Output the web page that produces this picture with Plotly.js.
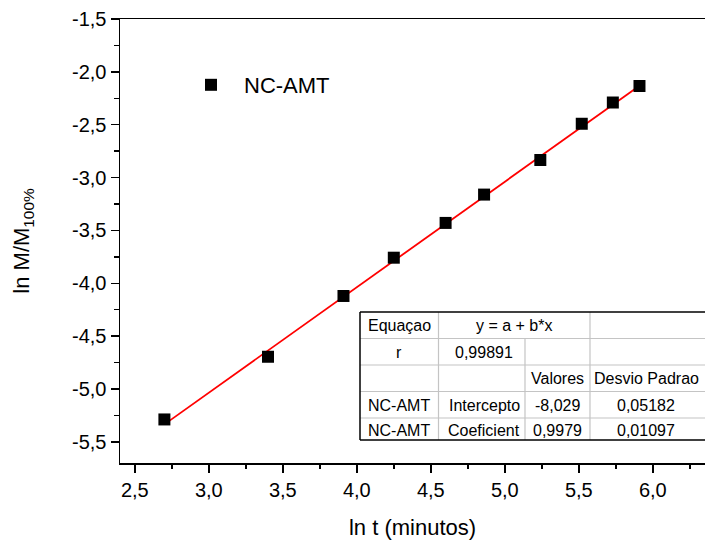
<!DOCTYPE html>
<html>
<head>
<meta charset="utf-8">
<script src="https://cdn.plot.ly/plotly-3.0.1.min.js"></script>
<style>
html,body{margin:0;padding:0;background:#fff;overflow:hidden;}
#chart{width:705px;height:544px;}
</style>
</head>
<body>
<div id="chart"></div>
<script>
// ---- data ----
const seriesName = 'NC-AMT';
const lnT = [2.70, 3.40, 3.91, 4.25, 4.60, 4.86, 5.24, 5.52, 5.73, 5.91];
const lnM = [-5.288, -4.695, -4.120, -3.758, -3.429, -3.161, -2.834, -2.491, -2.290, -2.134];

// linear fit results (from the table in the figure)
const fitIntercept = [-8.029, 0.05182];   // value, std. deviation
const fitSlope = [0.9979, 0.01097];       // value, std. deviation
const fitR = [0.99891];

// tick labels
const xTickVals = [2.5, 3.0, 3.5, 4.0, 4.5, 5.0, 5.5, 6.0];
const xTickText = ['2,5', '3,0', '3,5', '4,0', '4,5', '5,0', '5,5', '6,0'];
const yTickVals = [-1.5, -2.0, -2.5, -3.0, -3.5, -4.0, -4.5, -5.0, -5.5];
const yTickText = ['-1,5', '-2,0', '-2,5', '-3,0', '-3,5', '-4,0', '-4,5', '-5,0', '-5,5'];

// table texts
const tableHeader = ['Equaçao', 'y = a + b*x'];
const tableRLabel = ['r'];
const tableColHeads = ['Valores', 'Desvio Padrao'];
const tableRowLabels = ['NC-AMT', 'NC-AMT'];
const tableParamNames = ['Intercepto', 'Coeficient'];

// ---- helpers ----
const FONT = 'Liberation Sans, Arial, Helvetica, sans-serif';
const ML = 120, MR = 0, MT = 19, MB = 81, W = 705, H = 544;
const PW = W - ML - MR, PH = H - MT - MB;
const px = v => (v - ML) / PW;          // pixel x -> paper
const py = v => (H - MB - v) / PH;      // pixel y -> paper
const fmt = (v, d) => v.toFixed(d).replace('.', ',');

// fitted line through the first and last x
const lineX = [lnT[0], lnT[lnT.length - 1]];
const lineY = lineX.map(x => fitIntercept[0] + fitSlope[0] * x);

const traces = [
  {
    x: lineX, y: lineY, type: 'scatter', mode: 'lines',
    line: {color: '#ff0000', width: 1.8}, showlegend: false, hoverinfo: 'skip'
  },
  {
    x: lnT, y: lnM, type: 'scatter', mode: 'markers', name: seriesName,
    marker: {symbol: 'square', size: 12, color: '#000000', line: {width: 0}}
  }
];

// ---- table (shapes + annotations) ----
const tL = 360, tR = 706, c1 = 438.5, c2 = 525, c3 = 590;
const rows = [312, 338.5, 365, 391.5, 418, 440];
const shapes = [];
const dark = {color: '#000000', width: 1.5};
const grey = {color: '#c4c4c4', width: 1.2};
function hline(y, ln) { shapes.push({type: 'line', xref: 'paper', yref: 'paper', x0: px(tL), x1: px(tR), y0: py(y), y1: py(y), line: ln}); }
function vline(x, y0, y1, ln) { shapes.push({type: 'line', xref: 'paper', yref: 'paper', x0: px(x), x1: px(x), y0: py(y0), y1: py(y1), line: ln}); }
for (let i = 1; i < rows.length - 1; i++) hline(rows[i], grey);
vline(c1, rows[0], rows[5], grey);
vline(c2, rows[1], rows[5], grey);
vline(c3, rows[0], rows[5], grey);
hline(rows[0], dark);
hline(rows[5], dark);
vline(tL, rows[0], rows[5], dark);
// white background behind table
shapes.unshift({type: 'rect', xref: 'paper', yref: 'paper', x0: px(tL), x1: px(tR), y0: py(rows[0]), y1: py(rows[5]), fillcolor: '#ffffff', line: {width: 0}});
shapes.forEach(s => s.layer = 'above');

const cx = [399, 484, 557, 646];
const rc = [326, 352, 379, 405.5, 430];
const ann = [];
function txt(t, x, y) {
  ann.push({text: t, xref: 'paper', yref: 'paper', x: px(x), y: py(y), xanchor: 'center', yanchor: 'middle', showarrow: false, font: {family: FONT, size: 16, color: '#000'}});
}
txt(tableHeader[0], cx[0], rc[0]);
txt(tableHeader[1], 514, rc[0]);
txt(tableRLabel[0], cx[0], rc[1]);
txt(fmt(fitR[0], 5), cx[1], rc[1]);
txt(tableColHeads[0], cx[2], rc[2]);
txt(tableColHeads[1], cx[3], rc[2]);
txt(tableRowLabels[0], cx[0], rc[3]);
txt(tableParamNames[0], cx[1], rc[3]);
txt(fmt(fitIntercept[0], 3), cx[2], rc[3]);
txt(fmt(fitIntercept[1], 5), cx[3], rc[3]);
txt(tableRowLabels[1], cx[0], rc[4]);
txt(tableParamNames[1], cx[1], rc[4]);
txt(fmt(fitSlope[0], 4), cx[2], rc[4]);
txt(fmt(fitSlope[1], 5), cx[3], rc[4]);

const layout = {
  width: W, height: H,
  margin: {l: ML, r: MR, t: MT, b: MB, pad: 0},
  paper_bgcolor: '#fff', plot_bgcolor: '#fff',
  font: {family: FONT, color: '#000', size: 20},
  showlegend: true,
  legend: {
    x: px(178), y: py(85), xanchor: 'left', yanchor: 'middle',
    font: {family: FONT, size: 22, color: '#000'},
    bgcolor: 'rgba(0,0,0,0)', borderwidth: 0, itemwidth: 56
  },
  xaxis: {
    range: [2.4, 2.4 + 585 / 148],
    tickmode: 'array', tickvals: xTickVals, ticktext: xTickText,
    ticks: 'outside', ticklen: 8, tickwidth: 1.5, tickcolor: '#000',
    minor: {tickmode: 'linear', tick0: 0, dtick: 0.25, ticks: 'outside', ticklen: 4, tickwidth: 1.5, tickcolor: '#000'},
    showline: true, linecolor: '#000', linewidth: 1.5, mirror: true,
    showgrid: false, zeroline: false,
    tickfont: {family: FONT, size: 20, color: '#000'},
    title: {text: 'ln t (minutos)', font: {family: FONT, size: 22, color: '#000'}, standoff: 20}
  },
  yaxis: {
    range: [-5.7, -1.5],
    tickmode: 'array', tickvals: yTickVals, ticktext: yTickText,
    ticks: 'outside', ticklen: 8, tickwidth: 1.5, tickcolor: '#000',
    minor: {tickmode: 'linear', tick0: 0, dtick: 0.25, ticks: 'outside', ticklen: 5, tickwidth: 1.5, tickcolor: '#000'},
    showline: true, linecolor: '#000', linewidth: 1.5, mirror: false,
    showgrid: false, zeroline: false,
    tickfont: {family: FONT, size: 20, color: '#000'},
    title: {text: 'ln M/M<sub>100%</sub>', font: {family: FONT, size: 22, color: '#000'}, standoff: 36}
  },
  shapes: shapes,
  annotations: ann
};

Plotly.newPlot('chart', traces, layout, {displayModeBar: false, staticPlot: true});
</script>
</body>
</html>
